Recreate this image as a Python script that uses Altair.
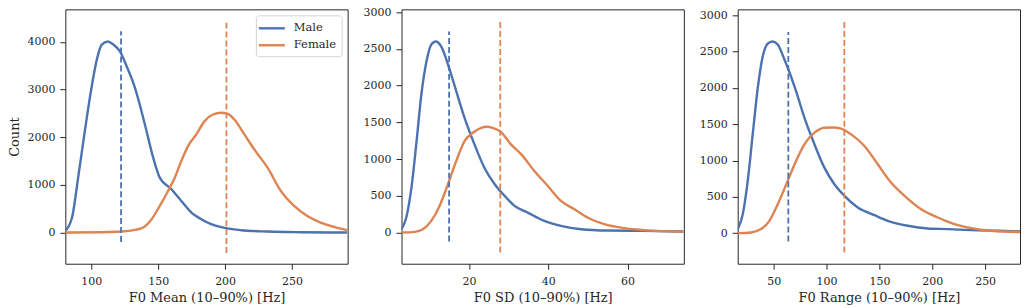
import altair as alt
import pandas as pd

FONT = "DejaVu Serif"
TXT = "#262626"
SERIES = ["Male", "Female"]
COLORS = ["#4c72b0", "#dd8452"]

# ---- Panel 1: F0 Mean ----
p1_male_x = [80.7, 85.7, 90.6, 95.6, 99.8, 104.2, 107.9, 112.4, 116.6, 121.5, 126.5, 132.7, 140.1, 146.3,
             151.2, 159.9, 167.3, 174.8, 182.2, 189.6, 200.7, 211.9, 231.7, 256.4, 291.0]
p1_male_y = [35, 314, 1222, 2199, 2967, 3630, 3944, 4010, 3944, 3805, 3490, 3037, 2269, 1571,
             1152, 908, 663, 419, 279, 175, 91, 49, 21, 7, 0]
p1_female_x = [80.7, 107.9, 122.8, 132.7, 138.9, 145.1, 151.2, 157.4, 162.4, 167.3, 172.3, 178.5, 184.7,
               190.9, 197.0, 202.0, 206.9, 214.4, 221.8, 231.7, 241.6, 251.5, 261.4, 271.3, 281.2, 291.2]
p1_female_y = [0, 7, 21, 56, 105, 279, 558, 873, 1152, 1501, 1815, 2059, 2339,
               2478, 2513, 2492, 2373, 2059, 1745, 1361, 873, 558, 349, 209, 119, 49]
p1_mean_x = [122.3, 201.0]
p1_mean_lo = [-200, -431]
p1_mean_hi = [4224, 4433]

# ---- Panel 2: F0 SD ----
p2_male_x = [3.0, 4.2, 5.5, 6.8, 8.0, 9.3, 10.5, 11.6, 13.0, 15.0, 16.8, 18.9, 21.4, 23.9, 26.5, 29.0,
             31.5, 34.8, 39.0, 43.2, 48.3, 55.0, 63.4, 74.1]
p2_male_y = [45, 204, 611, 1244, 1878, 2330, 2557, 2600, 2534, 2240, 1923, 1561, 1199, 882, 656, 498,
             362, 271, 158, 90, 45, 27, 23, 14]
p2_female_x = [3.0, 6.3, 8.4, 10.5, 12.6, 14.7, 16.8, 18.9, 21.0, 23.1, 24.4, 26.0, 28.1, 30.6, 33.2,
               36.5, 39.9, 43.2, 46.6, 49.9, 54.1, 59.2, 64.2, 74.1]
p2_female_y = [0, 9, 45, 158, 362, 656, 973, 1244, 1357, 1425, 1439, 1425, 1367, 1199, 1063,
               837, 633, 430, 317, 204, 113, 59, 32, 9]
p2_mean_x = [15.0, 27.9]
p2_mean_lo = [-122, -271]
p2_mean_hi = [2737, 2873]

# ---- Panel 3: F0 Range ----
p3_male_x = [15.9, 20.7, 25.4, 30.1, 34.9, 39.6, 45.0, 49.1, 53.8, 60.1, 63.9, 71.1, 79.0, 88.5, 97.9,
             107.4, 116.9, 129.5, 145.3, 157.9, 176.8, 195.7, 214.7, 236.8, 262.0, 283.4]
p3_male_y = [55, 261, 719, 1360, 2002, 2437, 2620, 2640, 2597, 2391, 2254, 1956, 1590, 1223, 902,
             673, 513, 353, 247, 169, 101, 64, 55, 41, 32, 23]
p3_female_x = [15.9, 28.5, 38.0, 45.9, 53.8, 63.2, 71.1, 79.0, 88.5, 97.9, 105.8, 113.7, 123.2, 135.8,
               148.4, 161.0, 173.7, 189.4, 205.2, 221.0, 236.8, 255.7, 283.4]
p3_female_y = [0, 9, 55, 169, 399, 719, 994, 1223, 1383, 1452, 1455, 1438, 1360, 1200,
               948, 696, 513, 330, 215, 124, 69, 32, 14]
p3_mean_x = [63.8, 116.8]
p3_mean_lo = [-115, -266]
p3_mean_hi = [2770, 2917]

x_titles = ["F0 Mean (10–90%) [Hz]", "F0 SD (10–90%) [Hz]", "F0 Range (10–90%) [Hz]"]
x_domains = [[80.7, 291.5], [3.0, 74.2], [15.9, 283.0]]
y_domains = [[-655, 4685], [-425, 3037], [-422, 3082]]
x_ticks = [[100, 150, 200, 250], [20, 40, 60], [50, 100, 150, 200, 250]]
y_ticks = [[0, 1000, 2000, 3000, 4000], [0, 500, 1000, 1500, 2000, 2500, 3000],
           [0, 500, 1000, 1500, 2000, 2500, 3000]]

W, H = 283, 255


def curves(mx, my, fx, fy):
    rows = [{"x": a, "y": b, "sex": "Male", "o": i} for i, (a, b) in enumerate(zip(mx, my))]
    rows += [{"x": a, "y": b, "sex": "Female", "o": i} for i, (a, b) in enumerate(zip(fx, fy))]
    return pd.DataFrame(rows)


def rules(mx, lo, hi):
    return pd.DataFrame({"x": mx, "y": lo, "y2": hi, "sex": SERIES})


def axis(values, title, pad):
    kw = dict(values=values, format="d", labelFont=FONT, labelFontSize=11, labelColor=TXT,
              titleFont=FONT, titleFontSize=13, titleFontWeight="normal", titleColor=TXT,
              tickSize=5.5, labelPadding=pad)
    kw["title"] = title if title else None
    return alt.Axis(**kw)


def panel(i, cdf, rdf, ytitle, legend):
    xs = alt.Scale(domain=x_domains[i], nice=False, zero=False)
    ys = alt.Scale(domain=y_domains[i], nice=False, zero=False)
    if legend:
        leg = alt.Legend(title=None, orient="top-right", offset=6, fillColor="white",
                         strokeColor="#d4d4d4", padding=5, cornerRadius=3,
                         symbolType="M-2,0H2", symbolStrokeWidth=2.4, symbolSize=169,
                         symbolOffset=3,
                         labelFont=FONT, labelFontSize=11.5, labelColor=TXT,
                         labelOffset=14, rowPadding=3)
    else:
        leg = None
    col = alt.Color("sex:N", scale=alt.Scale(domain=SERIES, range=COLORS), legend=leg)
    line = alt.Chart(cdf).mark_line(strokeWidth=2.4, interpolate="monotone", clip=True).encode(
        x=alt.X("x:Q", scale=xs, axis=axis(x_ticks[i], x_titles[i], 6)),
        y=alt.Y("y:Q", scale=ys, axis=axis(y_ticks[i], ytitle, 5)),
        color=col,
        order="o:Q",
        detail="sex:N",
    )
    rule = alt.Chart(rdf).mark_rule(strokeWidth=1.8, strokeDash=[6, 3], clip=True).encode(
        x="x:Q", y="y:Q", y2="y2:Q",
        color=alt.Color("sex:N", scale=alt.Scale(domain=SERIES, range=COLORS), legend=None),
    )
    return alt.layer(line, rule).properties(width=W, height=H)


c1 = panel(0, curves(p1_male_x, p1_male_y, p1_female_x, p1_female_y),
           rules(p1_mean_x, p1_mean_lo, p1_mean_hi), "Count", True)
c2 = panel(1, curves(p2_male_x, p2_male_y, p2_female_x, p2_female_y),
           rules(p2_mean_x, p2_mean_lo, p2_mean_hi), None, False)
c3 = panel(2, curves(p3_male_x, p3_male_y, p3_female_x, p3_female_y),
           rules(p3_mean_x, p3_mean_lo, p3_mean_hi), None, False)

chart = alt.hconcat(c1, c2, c3, spacing=54, bounds="flush").resolve_scale(
    color="independent"
).resolve_legend(
    color="independent"
).properties(
    padding={"left": 8.5, "top": 5, "right": 5, "bottom": 5}
).configure(
    font=FONT
).configure_view(
    stroke=TXT, strokeWidth=1
).configure_axis(
    grid=False, domain=False, ticks=True, tickColor=TXT, tickWidth=1,
    titlePadding=5,
)

chart.save("out.html", embed_options={"renderer": "svg", "actions": False})
